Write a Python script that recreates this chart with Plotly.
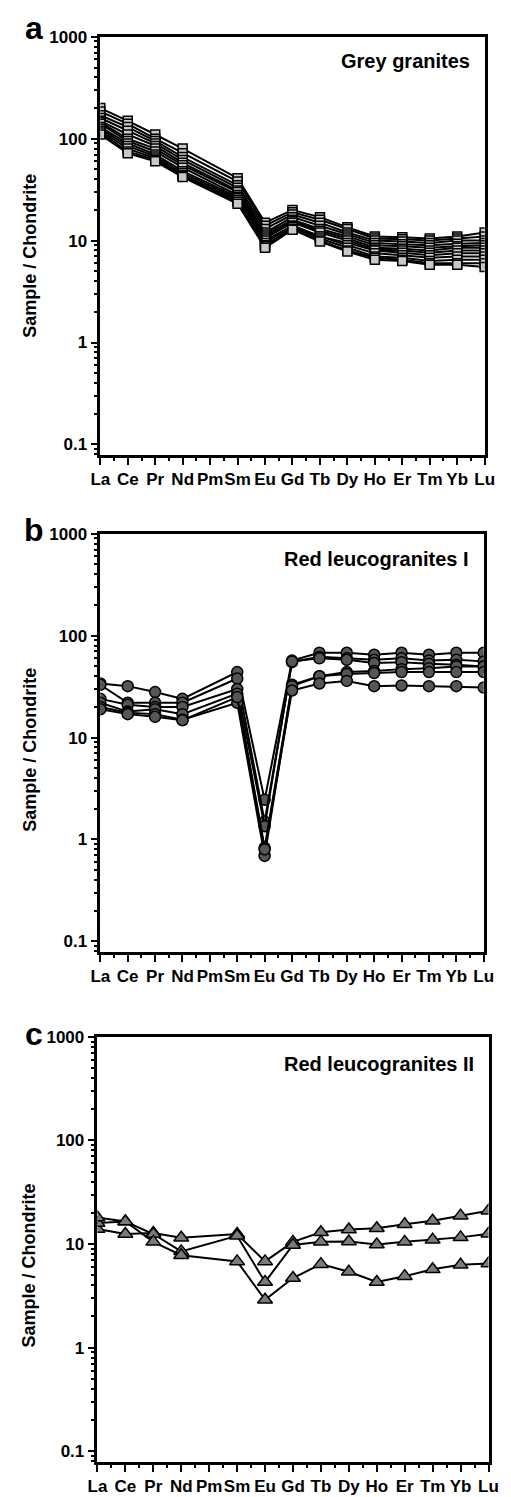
import plotly.graph_objects as go

W, H = 511, 1497

elements = ["La", "Ce", "Pr", "Nd", "Pm", "Sm", "Eu", "Gd", "Tb", "Dy", "Ho", "Er", "Tm", "Yb", "Lu"]

# Panel a - Grey granites (Pm not analysed -> None)
grey_granites = [
    [200, 150, 110, 80, None, 41, 15, 20, 17, 13.5, 11, 10.8, 10.5, 11, 12],
    [185, 140, 100, 72, None, 38, 14, 19, 16, 13, 10.5, 10.3, 10, 10.5, 11],
    [170, 130, 95, 66, None, 35, 13, 18, 15, 12, 10, 9.8, 9.5, 10, 10],
    [160, 120, 90, 62, None, 33, 12, 17, 14, 11.5, 9.5, 9.2, 9, 9.3, 9.5],
    [150, 110, 85, 58, None, 31, 11.5, 16, 13, 11, 9, 8.8, 8.5, 8.8, 9],
    [145, 100, 80, 55, None, 30, 11, 15.5, 12.5, 10.5, 8.5, 8.3, 8, 8.5, 8.5],
    [140, 95, 75, 52, None, 28, 10.5, 15, 12, 10, 8.2, 8, 7.6, 8, 8],
    [130, 90, 70, 48, None, 27, 10, 14, 11, 9.5, 8, 7.6, 7.2, 7.5, 7.5],
    [125, 85, 67, 46, None, 26, 9.5, 14, 11, 9, 7.5, 7.2, 6.8, 7, 7],
    [120, 80, 64, 44, None, 25, 9, 13.5, 10.5, 8.5, 7, 6.8, 6.3, 6.5, 6.5],
    [115, 75, 62, 43, None, 24, 8.8, 13, 10, 8, 6.8, 6.5, 6, 6, 6],
    [110, 72, 60, 42, None, 23, 8.5, 12.8, 9.8, 7.8, 6.5, 6.3, 5.8, 5.8, 5.5],
]

# Panel b - Red leucogranites I
red_leuco_1 = [
    [34, 32, 28, 24, None, 44, 2.45, 57, 68, 68, 65, 68, 65, 68, 68],
    [33, 22, 22, 22, None, 38, 1.5, 55, 62, 60, 58, 60, 57, 58, 56],
    [24, 21, 20, 20, None, 30, 1.35, 56, 60, 58, 54, 55, 53, 52, 50],
    [22, 18, 19, 17, None, 27, 0.83, 33, 40, 44, 45, 47, 48, 50, 50],
    [20, 17.5, 17, 15, None, 22, 0.69, 32, 40, 42, 43, 44, 44, 44, 44],
    [19, 17, 16, 14.8, None, 25, 0.8, 29, 34, 36, 32, 32.5, 32, 32, 31],
]

# Panel c - Red leucogranites II
red_leuco_2 = [
    [14, 12.5, 12.8, 11.5, None, 12.5, 6.8, 10.5, 13, 13.8, 14.2, 15.5, 16.8, 18.8, 21],
    [16, 16.5, 12.5, 8.5, None, 12, 4.3, 9.8, 10.5, 10.6, 9.9, 10.5, 11, 11.6, 12.6],
    [18, 16.5, 10.5, 7.8, None, 6.8, 2.9, 4.7, 6.4, 5.4, 4.3, 4.9, 5.7, 6.3, 6.5],
]

panel_titles = ["Grey granites", "Red leucogranites I", "Red leucogranites II"]
panel_letters = ["a", "b", "c"]
y_tick_vals = [0.1, 1, 10, 100, 1000]
y_tick_text = ["0.1", "1", "10", "100", "1000"]

FONT = "Liberation Sans, Arial, Helvetica, sans-serif"

# panel pixel boxes: left, right, top, bottom
boxes = [(94, 494, 28, 449), (94, 493, 528, 949), (91, 498, 1034, 1462)]
letter_mid = [19, 524, 1031]
title_mid = [52, 553, 1061]
ytitle_mid = [248, 745, 1264]
yranges = [[-1.107, 3], [-1.107, 3], [-1.105, 3]]
styles = [
    dict(symbol="square", color="#c8c8c8", size=9),
    dict(symbol="circle", color="#565656", size=11),
    dict(symbol="triangle-up", color="#7a7a7a", size=13),
]
datasets = [grey_granites, red_leuco_1, red_leuco_2]

minor_vals = []
for d in [0.01, 0.1, 1, 10, 100]:
    for k in range(2, 10):
        minor_vals.append(round(k * d, 4))

xpos = list(range(len(elements)))

fig = go.Figure()
layout = dict(width=W, height=H, margin=dict(l=0, r=0, t=0, b=0),
              paper_bgcolor="white", plot_bgcolor="white", showlegend=False,
              font=dict(family=FONT, color="black"))
annotations = []

for i, (data, st, box, yr) in enumerate(zip(datasets, styles, boxes, yranges)):
    xa = "x" if i == 0 else f"x{i+1}"
    ya = "y" if i == 0 else f"y{i+1}"
    for sample in data:
        fig.add_trace(go.Scatter(
            x=xpos, y=sample, xaxis=xa, yaxis=ya, mode="lines+markers",
            connectgaps=True,
            line=dict(color="black", width=2),
            marker=dict(symbol=st["symbol"], size=st["size"], color=st["color"],
                        line=dict(color="black", width=1.5)),
            hoverinfo="skip"))
    l, r, t, b = box
    xkey = "xaxis" if i == 0 else f"xaxis{i+1}"
    ykey = "yaxis" if i == 0 else f"yaxis{i+1}"
    layout[xkey] = dict(
        domain=[l / W, r / W], anchor=ya, range=[0, 14],
        tickvals=xpos, ticktext=elements, ticks="outside", ticklen=7, tickwidth=2,
        tickcolor="black", showline=True, linecolor="black", linewidth=2.5,
        mirror=True, showgrid=False, zeroline=False, tickangle=0,
        tickfont=dict(family=FONT, size=17, color="black", weight="bold"),
        minor=dict(dtick=0.5, tick0=0, ticks="outside", ticklen=3, tickwidth=1.5,
                   tickcolor="black", showgrid=False),
        fixedrange=True)
    layout[ykey] = dict(
        domain=[1 - b / H, 1 - t / H], anchor=xa, type="log", range=yr,
        tickvals=y_tick_vals, ticktext=y_tick_text, ticks="outside", ticklen=7,
        tickwidth=2, tickcolor="black", showline=True, linecolor="black",
        linewidth=2.5, mirror=True, showgrid=False, zeroline=False,
        tickfont=dict(family=FONT, size=17, color="black", weight="bold"),
        minor=dict(tickvals=minor_vals, ticks="outside", ticklen=4, tickwidth=1.5,
                   tickcolor="black", showgrid=False),
        fixedrange=True)
    # panel title
    annotations.append(dict(
        text=panel_titles[i], xref="paper", yref="paper",
        x=(r - 13) / W, y=1 - title_mid[i] / H, xanchor="right", yanchor="middle",
        showarrow=False, font=dict(family=FONT, size=20, color="black", weight="bold")))
    # panel letter
    annotations.append(dict(
        text=panel_letters[i], xref="paper", yref="paper",
        x=25 / W, y=1 - letter_mid[i] / H, xanchor="center", yanchor="middle",
        showarrow=False, font=dict(family=FONT, size=32, color="black", weight="bold")))
    # y-axis title
    annotations.append(dict(
        text="Sample / Chondrite", xref="paper", yref="paper",
        x=20 / W, y=1 - ytitle_mid[i] / H, xanchor="center", yanchor="middle",
        textangle=-90, showarrow=False,
        font=dict(family=FONT, size=18, color="black", weight="bold")))

layout["annotations"] = annotations
fig.update_layout(**layout)
fig.write_html("out.html")
